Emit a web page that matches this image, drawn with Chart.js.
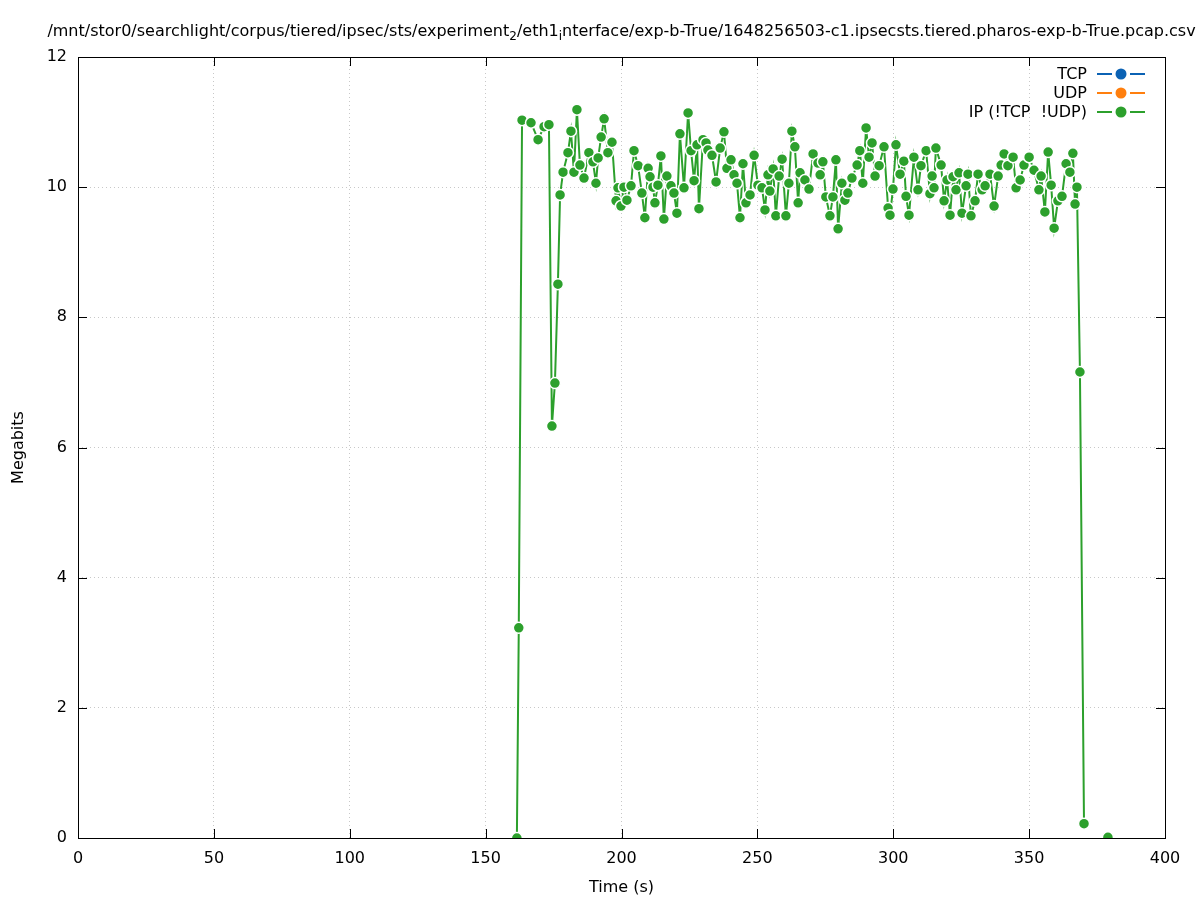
<!DOCTYPE html>
<html>
<head>
<meta charset="utf-8">
<script src="https://cdn.jsdelivr.net/npm/chart.js@4/dist/chart.umd.min.js"></script>
<style>
  html, body { margin: 0; padding: 0; background: #fff; }
  #wrap { width: 1197px; height: 900px; position: relative; }
</style>
</head>
<body>
<div id="wrap"><canvas id="rate"></canvas></div>
<script>
// series: time (s) -> megabits
const tcpTimes = [];
const tcpMegabits = [];
const udpTimes = [];
const udpMegabits = [];
const ipTimes = [
  161.5, 162.2, 163.4, 166.7, 169.3, 171.5, 173.3, 174.4, 175.5, 176.6,
  177.4, 178.5, 180.3, 181.4, 182.5, 183.6, 184.7, 186.2, 188.0, 189.5,
  190.6, 191.4, 192.5, 193.6, 195.0, 196.5, 198.0, 198.7, 199.8, 200.9,
  202.0, 203.5, 204.6, 206.1, 207.5, 208.6, 209.8, 210.5, 211.6, 212.3,
  213.4, 214.5, 215.6, 216.7, 218.2, 219.3, 220.4, 221.5, 223.0, 224.5,
  225.6, 226.7, 227.8, 228.5, 230.0, 231.1, 231.8, 233.3, 234.8, 236.3,
  237.7, 238.8, 240.3, 241.4, 242.5, 243.6, 244.7, 245.8, 247.3, 248.8,
  250.2, 251.7, 252.8, 253.9, 254.6, 255.8, 256.8, 258.0, 259.1, 260.5,
  261.6, 262.7, 263.8, 265.0, 265.7, 267.5, 269.0, 270.5, 272.3, 273.1,
  274.1, 275.2, 276.7, 277.8, 278.9, 279.7, 281.1, 282.2, 283.3, 284.8,
  286.7, 287.7, 288.8, 290.0, 291.1, 292.2, 293.3, 294.8, 296.6, 298.1,
  298.8, 299.9, 301.0, 302.5, 303.9, 304.7, 305.8, 307.6, 309.1, 310.2,
  312.1, 313.5, 314.3, 315.0, 315.7, 317.6, 318.7, 319.8, 320.9, 322.0,
  323.1, 324.2, 325.3, 326.8, 327.5, 328.6, 330.1, 331.2, 332.7, 333.8,
  335.6, 337.1, 338.6, 339.7, 340.8, 342.2, 344.1, 345.2, 346.7, 348.1,
  350.0, 351.8, 353.6, 354.4, 355.8, 357.0, 358.1, 359.2, 360.6, 362.1,
  363.6, 365.0, 366.1, 366.9, 367.6, 368.7, 370.2, 375.0, 379.0
];
// null = break in the line (the last sample stands alone)
const ipMegabits = [
  0.00, 3.23, 11.03, 10.99, 10.73, 10.93, 10.96, 6.33, 6.99, 8.51,
  9.88, 10.23, 10.53, 10.86, 10.23, 11.19, 10.34, 10.14, 10.53, 10.39,
  10.06, 10.45, 10.77, 11.05, 10.53, 10.69, 9.79, 9.99, 9.71, 10.00,
  9.80, 10.02, 10.56, 10.33, 9.91, 9.53, 10.29, 10.16, 10.00, 9.76,
  10.03, 10.48, 9.51, 10.17, 10.02, 9.91, 9.60, 10.82, 9.99, 11.14,
  10.56, 10.10, 10.65, 9.67, 10.73, 10.68, 10.57, 10.49, 10.08, 10.60,
  10.85, 10.29, 10.42, 10.19, 10.06, 9.53, 10.36, 9.76, 9.88, 10.49,
  10.03, 9.99, 9.65, 10.19, 9.94, 10.28, 9.56, 10.17, 10.43, 9.56,
  10.06, 10.86, 10.62, 9.76, 10.22, 10.11, 9.97, 10.51, 10.37, 10.19,
  10.39, 9.85, 9.56, 9.85, 10.42, 9.36, 10.06, 9.80, 9.91, 10.14,
  10.34, 10.56, 10.06, 10.91, 10.46, 10.68, 10.17, 10.33, 10.62, 9.68,
  9.57, 9.97, 10.65, 10.20, 10.40, 9.86, 9.57, 10.46, 9.96, 10.33,
  10.56, 9.90, 10.17, 9.99, 10.60, 10.34, 9.79, 10.11, 9.57, 10.16,
  9.96, 10.22, 9.60, 10.02, 10.20, 9.56, 9.79, 10.20, 9.96, 10.02,
  10.20, 9.71, 10.17, 10.34, 10.51, 10.33, 10.46, 9.99, 10.11, 10.34,
  10.46, 10.26, 9.96, 10.17, 9.62, 10.54, 10.03, 9.37, 9.79, 9.86,
  10.36, 10.23, 10.52, 9.74, 10.00, 7.16, 0.22, null, 0.01
];
const xTicks = [0, 50, 100, 150, 200, 250, 300, 350, 400];
const yTicks = [0, 2, 4, 6, 8, 10, 12];

const TITLE_PARTS = [
  { t: "/mnt/stor0/searchlight/corpus/tiered/ipsec/sts/experiment" },
  { t: "2", sub: true },
  { t: "/eth1" },
  { t: "i", sub: true },
  { t: "nterface/exp-b-True/1648256503-c1.ipsecsts.tiered.pharos-exp-b-True.pcap.csv" },
];

const FONT = "'DejaVu Sans', sans-serif";
const FONT_SIZE = 16;
const TCP_COLOR = "#0b62b4";
const UDP_COLOR = "#ff7f0e";
const IP_COLOR  = "#2ca02c";

const toPoints = (xs, ys) => xs.map((x, i) => ({ x, y: ys[i] }));

function seriesStyle(label, color, xs, ys) {
  return {
    label,
    data: toPoints(xs, ys),
    borderColor: color,
    backgroundColor: color,
    borderWidth: 2,
    pointRadius: 5.5,
    pointHoverRadius: 5.5,
    pointBorderColor: "#ffffff",
    pointBorderWidth: 1.5,
    pointBackgroundColor: color,
    spanGaps: false,
    tension: 0,
  };
}

// gnuplot-like frame: box, inward ticks on all sides, title with subscripts, key
const framePlugin = {
  id: "frame",
  afterDraw(chart) {
    const { ctx, chartArea: a, scales } = chart;
    ctx.save();
    ctx.strokeStyle = "#000";
    ctx.lineWidth = 1;
    ctx.strokeRect(a.left + 0.5, a.top + 0.5, a.right - a.left, a.bottom - a.top);
    const tl = 9;
    ctx.beginPath();
    xTicks.forEach((v) => {
      const px = Math.round(scales.x.getPixelForValue(v)) + 0.5;
      ctx.moveTo(px, a.bottom); ctx.lineTo(px, a.bottom - tl);
      ctx.moveTo(px, a.top);    ctx.lineTo(px, a.top + tl);
    });
    yTicks.forEach((v) => {
      const py = Math.round(scales.y.getPixelForValue(v)) + 0.5;
      ctx.moveTo(a.left, py);  ctx.lineTo(a.left + tl, py);
      ctx.moveTo(a.right, py); ctx.lineTo(a.right - tl, py);
    });
    ctx.stroke();

    // title
    const big = FONT_SIZE + "px " + FONT, small = "12px " + FONT;
    let total = 0;
    TITLE_PARTS.forEach((p) => { ctx.font = p.sub ? small : big; total += ctx.measureText(p.t).width; });
    let x = (a.left + a.right) / 2 - total / 2;
    const base = 36;
    ctx.fillStyle = "#000";
    ctx.textBaseline = "alphabetic";
    ctx.textAlign = "left";
    TITLE_PARTS.forEach((p) => {
      ctx.font = p.sub ? small : big;
      ctx.fillText(p.t, x, p.sub ? base + 4 : base);
      x += ctx.measureText(p.t).width;
    });

    // key
    ctx.font = big;
    ctx.textAlign = "right";
    ctx.textBaseline = "middle";
    chart.data.datasets.forEach((ds, i) => {
      const y = 74 + i * 19;
      ctx.fillStyle = "#000";
      ctx.fillText(ds.label, 1087, y + 1);
      ctx.strokeStyle = ds.borderColor;
      ctx.lineWidth = 2;
      ctx.beginPath();
      ctx.moveTo(1097, y); ctx.lineTo(1112, y);
      ctx.moveTo(1130, y); ctx.lineTo(1145, y);
      ctx.stroke();
      ctx.fillStyle = ds.borderColor;
      ctx.beginPath();
      ctx.arc(1121, y, 5.5, 0, Math.PI * 2);
      ctx.fill();
    });
    ctx.restore();
  },
};

new Chart(document.getElementById("rate"), {
  type: "line",
  data: {
    datasets: [
      seriesStyle("TCP", TCP_COLOR, tcpTimes, tcpMegabits),
      seriesStyle("UDP", UDP_COLOR, udpTimes, udpMegabits),
      seriesStyle("IP (!TCP  !UDP)", IP_COLOR, ipTimes, ipMegabits),
    ],
  },
  options: {
    responsive: true,
    maintainAspectRatio: false,
    animation: false,
    layout: { padding: { top: 57, right: 32, left: 0, bottom: 0 } },
    plugins: {
      legend: { display: false },
      tooltip: { enabled: false },
      title: { display: false },
    },
    scales: {
      x: {
        type: "linear",
        min: 0, max: 400,
        afterFit: (s) => { s.height = 62; },
        afterBuildTicks: (s) => { s.ticks = xTicks.map((v) => ({ value: v })); },
        grid: { color: "#c8c8c8", lineWidth: 1, drawTicks: false },
        border: { display: false, dash: [1, 3] },
        ticks: { color: "#000", font: { family: FONT, size: FONT_SIZE }, padding: 11, maxRotation: 0 },
        title: { display: true, text: "Time (s)", color: "#000", font: { family: FONT, size: FONT_SIZE }, padding: { top: 0, bottom: 3 } },
      },
      y: {
        type: "linear",
        min: 0, max: 12,
        afterFit: (s) => { s.width = 78; },
        afterBuildTicks: (s) => { s.ticks = yTicks.map((v) => ({ value: v })); },
        grid: { color: "#c8c8c8", lineWidth: 1, drawTicks: false },
        border: { display: false, dash: [1, 3] },
        ticks: { color: "#000", font: { family: FONT, size: FONT_SIZE }, padding: 11 },
        title: { display: true, text: "Megabits", color: "#000", font: { family: FONT, size: FONT_SIZE }, padding: { top: 9, bottom: 0 } },
      },
    },
  },
  plugins: [framePlugin],
});
</script>
</body>
</html>
